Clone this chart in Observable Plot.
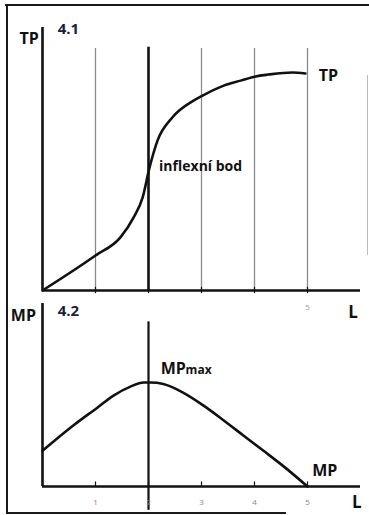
<!DOCTYPE html>
<html><head><meta charset="utf-8">
<script src="https://cdn.jsdelivr.net/npm/d3@7"></script>
<script src="https://cdn.jsdelivr.net/npm/@observablehq/plot@0.6"></script>
<style>
html,body{margin:0;padding:0;background:#fff;}
#wrap{position:relative;width:369px;height:515px;overflow:hidden;background:#fff;}
#wrap svg{position:absolute;left:0;top:0;}
.fr{position:absolute;background:#1a1a1a;}
</style></head><body>
<div id="wrap">
<div class="fr" style="left:5px;top:4px;width:364px;height:2px"></div>
<div class="fr" style="left:6px;top:4px;width:2px;height:510px"></div>
<div class="fr" style="left:6px;top:512px;width:280px;height:2px"></div>
<div class="fr" style="left:367px;top:75px;width:1px;height:180px;background:#bbb"></div>
</div>
<script>
// Data
const tpL   = [0, 1, 1.47, 1.72, 1.89, 2.02, 2.17, 2.45, 2.85, 3.02, 3.42, 3.74, 4.02, 4.26, 4.72, 4.96];
const tpVal = [0, 1.33, 2.02, 2.78, 3.54, 4.68, 5.70, 6.58, 7.22, 7.41, 7.79, 7.98, 8.14, 8.21, 8.29, 8.25];
const mpL   = [0, 0.58, 1.04, 1.34, 1.66, 1.91, 2.04, 2.28, 2.66, 3.04, 3.42, 3.79, 4.17, 4.55, 5];
const mpVal = [1.95, 3.33, 4.32, 4.97, 5.46, 5.68, 5.68, 5.6, 5.12, 4.42, 3.61, 2.79, 1.95, 1.1, 0];
const xTicks = [1, 2, 3, 4, 5];
const gridLight = [1, 3, 4, 5];
const inflexL = [2];
const tickLabels = ["1", "2", "3", "4", "5"];

const tpData = tpL.map((l, i) => ({L: l, v: tpVal[i]}));
const mpData = mpL.map((l, i) => ({L: l, v: mpVal[i]}));

const W = 369, H = 515;
const font = "'Open Sans', Lato, sans-serif";
const ink = "#111";
const navy = "#1c1c3c";

const common = {
  width: W, height: H,
  marginLeft: 42, marginRight: 9,
  x: {domain: [0, 6], axis: null},
  style: {fontFamily: font, background: "transparent", overflow: "visible"}
};

// Panel 4.1 — TP
const p1 = Plot.plot({
  ...common,
  marginTop: 27, marginBottom: 225,
  y: {domain: [0, 10], axis: null},
  marks: [
    Plot.ruleX(gridLight, {y1: 0, y2: 9.2, stroke: "#8a8a8a", strokeWidth: 1.3}),
    Plot.ruleX(inflexL, {y1: 0, y2: 9.25, stroke: ink, strokeWidth: 2.6}),
    Plot.ruleX([0], {y1: 0, y2: 10, stroke: ink, strokeWidth: 2.6}),
    Plot.ruleY([0], {x1: 0, x2: 6, stroke: ink, strokeWidth: 2.6}),
    Plot.ruleX(xTicks, {y1: -0.12, y2: 0.12, stroke: ink, strokeWidth: 1.2}),
    Plot.line(tpData, {x: "L", y: "v", curve: "monotone-x", stroke: ink, strokeWidth: 2.6}),
    Plot.text(["TP"], {x: -0.25, y: 9.39, lineAnchor: "bottom", fontSize: 16, fontWeight: "bold", fill: ink}),
    Plot.text(["4.1"], {x: 0.49, y: 9.77, lineAnchor: "bottom", fontSize: 15, fontWeight: "bold", fill: navy}),
    Plot.text(["inflexní bod"], {x: 2.2, y: 4.56, lineAnchor: "bottom", textAnchor: "start", fontSize: 14, fontWeight: "bold", fill: ink}),
    Plot.text(["TP"], {x: 5.21, y: 7.98, lineAnchor: "bottom", textAnchor: "start", fontSize: 16, fontWeight: "bold", fill: ink}),
    Plot.text(["5"], {x: 5, y: -0.65, fontSize: 8, fill: "#999"}),
    Plot.text(["L"], {x: 5.86, y: -1.03, lineAnchor: "bottom", fontSize: 17, fontWeight: "bold", fill: ink})
  ]
});

// Panel 4.2 — MP
const p2 = Plot.plot({
  ...common,
  marginTop: 303, marginBottom: 29,
  y: {domain: [0, 10], axis: null},
  marks: [
    Plot.ruleX(inflexL, {y1: -1.3, y2: 9.0, stroke: ink, strokeWidth: 2.2}),
    Plot.ruleX([0], {y1: 0, y2: 10, stroke: ink, strokeWidth: 2.6}),
    Plot.ruleY([0], {x1: 0, x2: 6, stroke: ink, strokeWidth: 2.6}),
    Plot.ruleX(xTicks, {y1: 0, y2: 0.25, stroke: ink, strokeWidth: 1.2}),
    Plot.line(mpData, {x: "L", y: "v", curve: "monotone-x", stroke: ink, strokeWidth: 2.6}),
    Plot.text(["MP"], {x: -0.36, y: 9.07, lineAnchor: "bottom", fontSize: 16, fontWeight: "bold", fill: ink}),
    Plot.text(["4.2"], {x: 0.49, y: 9.34, lineAnchor: "bottom", fontSize: 15, fontWeight: "bold", fill: navy}),
    Plot.text(["MP"], {x: 2.23, y: 6.17, lineAnchor: "bottom", textAnchor: "start", fontSize: 16, fontWeight: "bold", fill: ink}),
    Plot.text(["max"], {x: 2.7, y: 6.17, lineAnchor: "bottom", textAnchor: "start", fontSize: 12, fontWeight: "bold", fill: ink}),
    Plot.text(["MP"], {x: 5.09, y: 0.6, lineAnchor: "bottom", textAnchor: "start", fontSize: 16, fontWeight: "bold", fill: ink}),
    Plot.text(tickLabels, {x: xTicks, y: -0.87, fontSize: 8, fill: "#888"}),
    Plot.text(["L"], {x: 5.93, y: -1.2, lineAnchor: "bottom", fontSize: 17, fontWeight: "bold", fill: ink})
  ]
});

const wrap = document.getElementById("wrap");
wrap.appendChild(p1);
wrap.appendChild(p2);
</script>
</body></html>
